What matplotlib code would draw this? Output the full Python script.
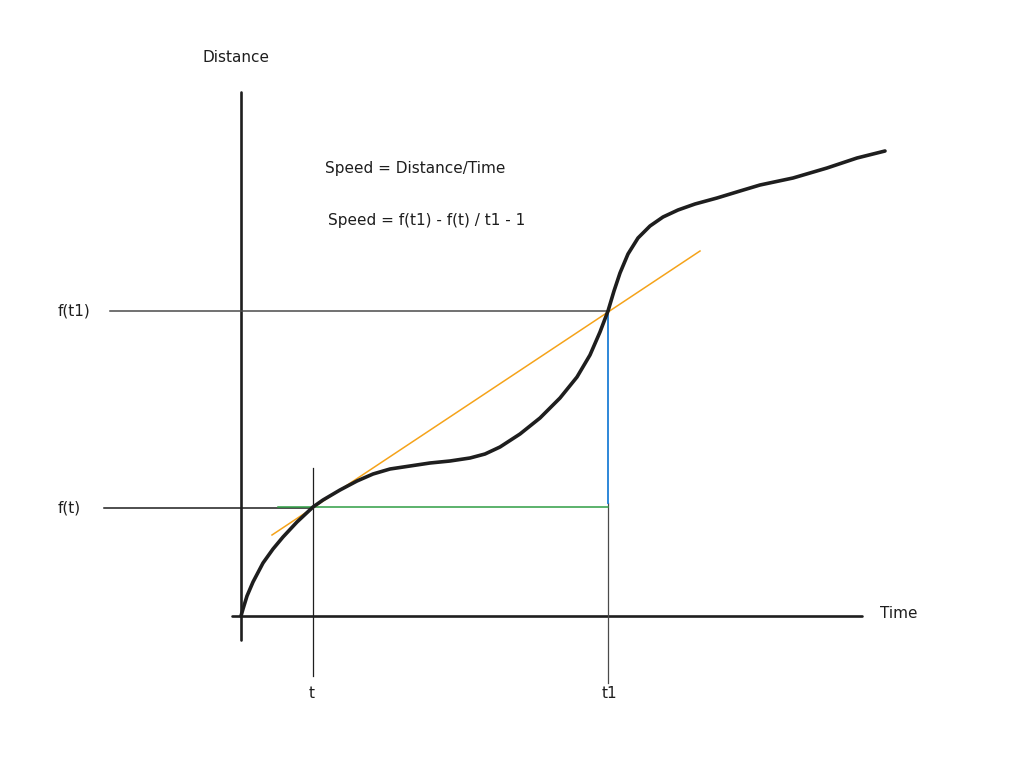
import matplotlib.pyplot as plt

# -----------------------------
# Data (chart units: time right of origin, distance up from origin)
# -----------------------------
curve_time = [0, 2, 6, 12, 22, 32, 42, 56, 72,
              82, 99, 116, 132, 149, 169, 189, 209, 229,
              244, 259, 279, 299, 319, 336, 349, 359, 367,
              373, 379, 387, 397, 409, 422, 437, 454, 476,
              499, 519, 552, 586, 616, 644]
curve_dist = [0, 7, 20, 34, 53, 67, 79, 94, 109,
              116, 126, 135, 142, 147, 150, 153, 155, 158,
              162, 169, 182, 198, 218, 239, 261, 284, 305,
              325, 343, 362, 378, 390, 399, 406, 412, 418,
              425, 431, 438, 448, 458, 465]

t_val = 72
t1_val = 367
ft_val = 108
ft1_val = 305

tangent_time = [31, 459]
tangent_dist = [81, 365]

# -----------------------------
# Theme
# -----------------------------
INK = "#1e1e1e"
THIN = "#4a4a4a"
ORANGE = "#f5a31a"
GREEN = "#2f9e44"
BLUE = "#1c7ed6"
FONT = "DejaVu Sans"

fig = plt.figure(figsize=(10.24, 7.64), dpi=100)
ax = fig.add_axes([0, 0, 1, 1])
ax.set_xlim(-241, 783)
ax.set_ylim(-148, 616)
ax.axis("off")

# axes
ax.plot([0, 0], [-24, 524], color=INK, lw=1.9, solid_capstyle="round")
ax.plot([-9, 621], [0, 0], color=INK, lw=1.9, solid_capstyle="round")

# guide lines
ax.plot([-131, t1_val], [ft1_val, ft1_val], color=THIN, lw=1.1)
ax.plot([-137, t_val], [ft_val, ft_val], color=INK, lw=1.1)
ax.plot([t_val, t_val], [-60, 148], color=INK, lw=0.9)
ax.plot([t1_val, t1_val], [-67, 113], color=THIN, lw=0.9)

# speed triangle
ax.plot([37, t1_val], [ft_val + 1, ft_val + 1], color=GREEN, lw=1.1)
ax.plot([t1_val, t1_val], [113, ft1_val], color=BLUE, lw=1.3)

# secant
ax.plot(tangent_time, tangent_dist, color=ORANGE, lw=1.1)

# distance curve
ax.plot(curve_time, curve_dist, color=INK, lw=2.6,
        solid_capstyle="round", solid_joinstyle="round")

# labels
txt = dict(color=INK, fontsize=11, family=FONT)
ax.text(-5, 558, "Distance", ha="center", va="center", **txt)
ax.text(639, 2, "Time", ha="left", va="center", **txt)
ax.text(-183, ft1_val, "f(t1)", ha="left", va="center", **txt)
ax.text(-183, ft_val, "f(t)", ha="left", va="center", **txt)
ax.text(t_val - 1, -77, "t", ha="center", va="center", **txt)
ax.text(t1_val + 1, -77, "t1", ha="center", va="center", **txt)
ax.text(84, 447, "Speed = Distance/Time", ha="left", va="center", **txt)
ax.text(87, 396, "Speed = f(t1) - f(t) / t1 - 1", ha="left", va="center", **txt)

fig.savefig("out.png", dpi=100, facecolor="white")
